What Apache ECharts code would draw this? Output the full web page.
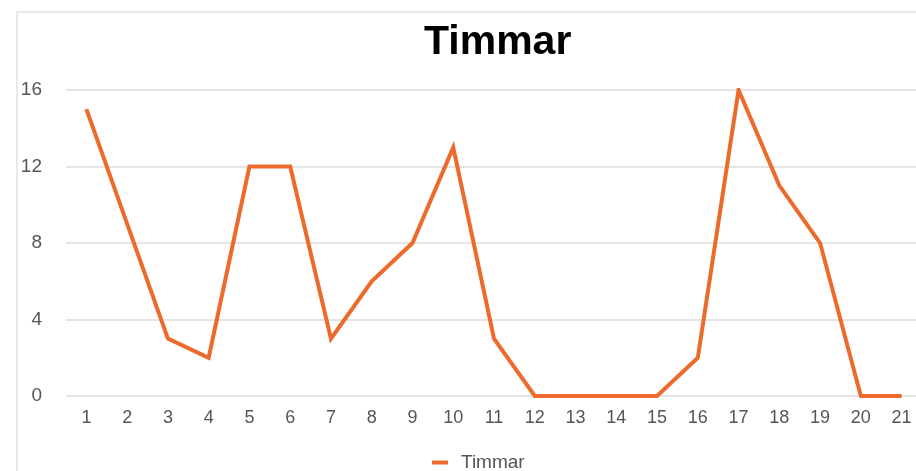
<!DOCTYPE html>
<html>
<head>
<meta charset="utf-8">
<title>Timmar</title>
<script src="https://cdn.jsdelivr.net/npm/echarts@6/dist/echarts.min.js"></script>
<style>
  html, body { margin: 0; padding: 0; background: #fff; }
  #chart { width: 916px; height: 471px; }
</style>
</head>
<body>
<div id="chart"></div>
<script>
// data
const days = ["1","2","3","4","5","6","7","8","9","10","11","12","13","14","15","16","17","18","19","20","21"];
const hours = [15, 9, 3, 2, 12, 12, 3, 6, 8, 13, 3, 0, 0, 0, 0, 2, 16, 11, 8, 0, 0];
const yTicks = { min: 0, max: 16, step: 4 };

const orange = "#ec6b2c";
const labelGrey = "#555";
const font = "'Liberation Sans', Arial, Helvetica, sans-serif";

let chart = echarts.init(document.getElementById("chart"), null, { renderer: "canvas" });

chart.setOption({
  backgroundColor: "#fff",
  animation: false,
  // faint frame round the chart box
  graphic: [{
    type: "polyline",
    shape: { points: [[17, 480], [17, 12], [930, 12]] },
    style: { stroke: "#e9e9e9", lineWidth: 2, fill: null },
    silent: true
  }],
  title: {
    text: "Timmar",
    left: 419,
    top: 17,
    textStyle: { fontFamily: font, fontWeight: "bold", fontSize: 41, color: "#000" }
  },
  legend: {
    data: ["Timmar"],
    left: 427,
    top: 448,
    icon: "rect",
    itemWidth: 16,
    itemHeight: 4,
    textStyle: { fontFamily: font, fontSize: 19, color: labelGrey, padding: [0, 0, 0, 8] }
  },
  // plot area runs a little past the right edge, like the cropped original
  grid: { left: 66, width: 856, top: 90, bottom: 75, containLabel: false, outerBoundsMode: "none" },
  xAxis: {
    type: "category",
    data: days,
    boundaryGap: true,
    axisLine: { show: false },
    axisTick: { show: false },
    axisLabel: { color: labelGrey, fontFamily: font, fontSize: 18, margin: 13 }
  },
  yAxis: {
    type: "value",
    min: yTicks.min,
    max: yTicks.max,
    interval: yTicks.step,
    axisLine: { show: false },
    axisTick: { show: false },
    axisLabel: { color: labelGrey, fontFamily: font, fontSize: 19, margin: 24 },
    splitLine: { lineStyle: { color: "#dcdcdc", width: 1.5 } }
  },
  series: [{
    name: "Timmar",
    type: "line",
    data: hours,
    symbol: "none",
    lineStyle: { color: orange, width: 4, join: "miter" },
    itemStyle: { color: orange }
  }]
});
</script>
</body>
</html>
